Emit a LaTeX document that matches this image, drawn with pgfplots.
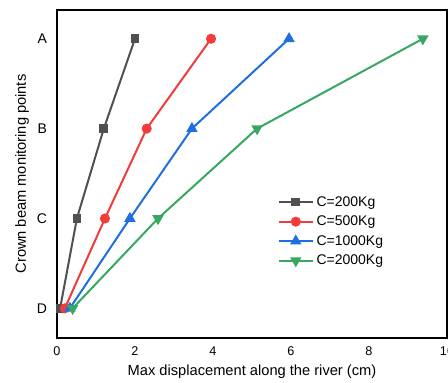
\documentclass[border=0pt]{standalone}
\usepackage{pgfplots}
\pgfplotsset{compat=1.18}
\usepackage{fontspec}
\setmainfont{Liberation Sans}
\definecolor{cblack}{HTML}{505050}
\definecolor{cred}{HTML}{F03C3C}
\definecolor{cblue}{HTML}{1E6FE0}
\definecolor{cgreen}{HTML}{36A862}
\begin{document}
\begin{tikzpicture}
\begin{axis}[
  width=292.5pt, height=246pt, scale only axis,
  xmin=0, xmax=10, ymin=-0.33, ymax=3.32,
  xtick={0,2,...,10},
  ytick={0,1,2,3}, yticklabels={D,C,B,A},
  major tick length=0pt,
  axis line style={line width=1.5pt},
  /pgf/number format/assume math mode=true,
  tick label style={font=\fontsize{9.5}{11}\selectfont},
  xticklabel style={yshift=-3pt},
  yticklabel style={xshift=-4pt, font=\fontsize{10.5}{12}\selectfont},
  xlabel={Max displacement along the river (cm)},
  ylabel={Crown beam monitoring points},
  label style={font=\fontsize{11}{13}\selectfont},
  xlabel style={yshift=0pt},
  ylabel style={yshift=-1pt},
  legend style={draw=none, fill=none, at={(0.555,0.325)}, anchor=west,
    font=\fontsize{10.5}{12}\selectfont, row sep=1.8pt},
  legend cell align=left,
  legend image code/.code={%
    \draw[mark repeat=2,mark phase=2] plot coordinates {(0cm,0cm) (0.45cm,0cm) (0.9cm,0cm)};},
  every axis plot/.append style={line width=1.5pt},
]
\addplot[cblack, mark=square*, mark size=2.5pt] coordinates {(0.08,0) (0.51,1) (1.2,2) (2.0,3)};
\addlegendentry{C=200Kg}
\addplot[cred, mark=*, mark size=3pt] coordinates {(0.2,0) (1.23,1) (2.3,2) (3.95,3)};
\addlegendentry{C=500Kg}
\addplot[cblue, mark=triangle*, mark size=3.5pt] coordinates {(0.33,0) (1.87,1) (3.46,2) (5.95,3)};
\addlegendentry{C=1000Kg}
\addplot[cgreen, mark=triangle*, mark options={rotate=180}, mark size=3.5pt] coordinates {(0.4,0) (2.59,1) (5.13,2) (9.38,3)};
\addlegendentry{C=2000Kg}
\end{axis}
\pgfresetboundingbox
\path[use as bounding box] ([xshift=-42.75pt,yshift=-33pt]current axis.south west) rectangle ([xshift=0.75pt,yshift=7.5pt]current axis.north east);
\end{tikzpicture}
\end{document}
